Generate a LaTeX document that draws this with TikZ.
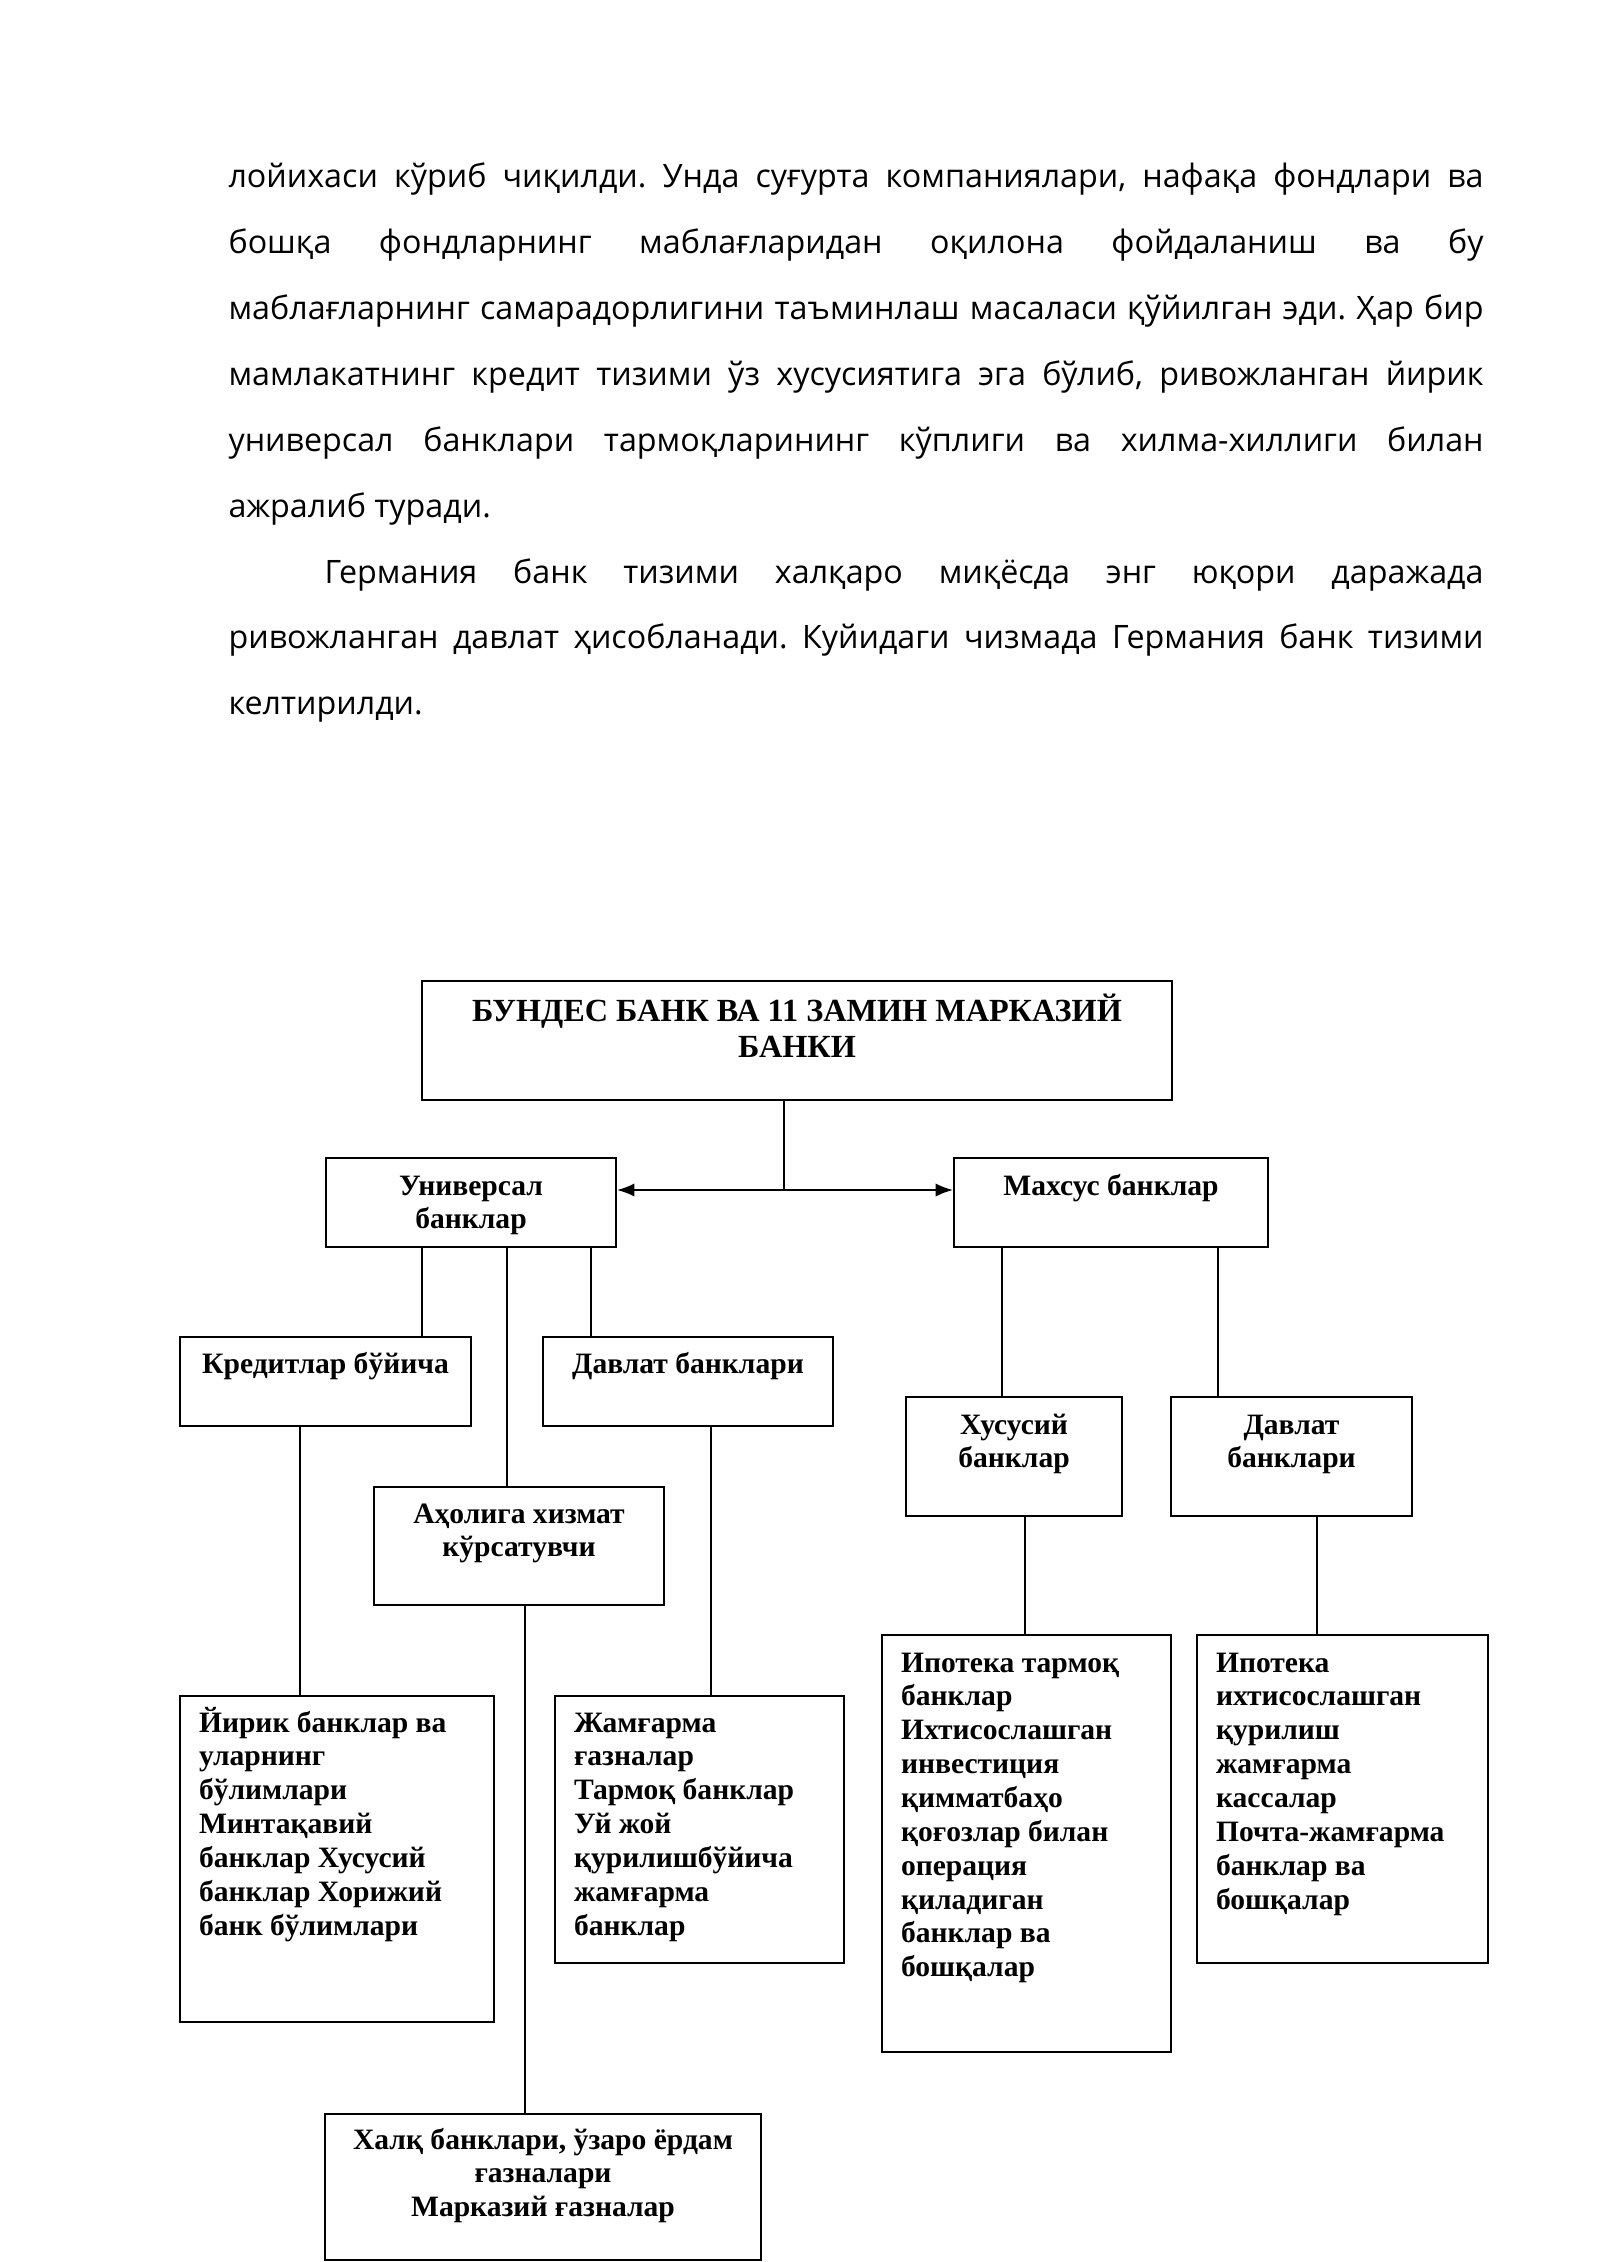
\documentclass[tikz,border=0pt]{standalone}
\usepackage{fontspec}
\usetikzlibrary{arrows.meta,calc}
\newfontfamily\bodyfont{Open Sans}
\newfontfamily\boxfontfam{Liberation Serif}
\newlength\pxu
\setlength\pxu{0.37205pt}
\newcommand\boxfont{\boxfontfam\bfseries\fontsize{11pt}{12.6pt}\selectfont}
\newcommand\titlefont{\fontsize{12pt}{13.6pt}\selectfont}
\newcommand\boxc[4]{\parbox[c][#2\pxu][t]{#1\pxu}{\centering\rule{0pt}{#3\pxu}#4\par}}
\newcommand\boxl[4]{\parbox[c][#2\pxu][t]{#1\pxu}{\raggedright\leftskip=19\pxu\rule{0pt}{#3\pxu}#4\par}}
\tikzset{
  box/.style={draw, line width=0.75pt, inner sep=0pt, anchor=north west, font=\boxfont},
  link/.style={line width=0.6pt},
  biarrow/.style={line width=0.7pt, {Latex[length=6.5pt,width=5pt]}-{Latex[length=6.5pt,width=5pt]}}
}
\begin{document}
\begin{tikzpicture}[x=0.37205pt, y=-0.37205pt]
\useasboundingbox[fill=white] (0,0) rectangle (1600,2262);

% body text
\node[anchor=base west, inner sep=0pt] (body) at (228,188) {\parbox[t]{1255\pxu}{%
\bodyfont\fontsize{12pt}{24.5pt}\selectfont\frenchspacing
\tolerance=10000 \hyphenpenalty=10000 \parindent=0pt \parfillskip=0pt plus 1fil
лойихаси кўриб чиқилди. Унда суғурта компаниялари, нафақа фондлари ва\linebreak
бошқа фондларнинг маблағларидан оқилона фойдаланиш ва бу\linebreak
маблағларнинг самарадорлигини таъминлаш масаласи қўйилган эди. Ҳар бир\linebreak
мамлакатнинг кредит тизими ўз хусусиятига эга бўлиб, ривожланган йирик\linebreak
универсал банклари тармоқларининг кўплиги ва хилма-хиллиги билан\linebreak
ажралиб туради.\par
\hspace*{96\pxu}Германия банк тизими халқаро миқёсда энг юқори даражада\linebreak
ривожланган давлат ҳисобланади. Куйидаги чизмада Германия банк тизими\linebreak
келтирилди.\par}};

% boxes
\node[box] (top) at (421,980) {\boxc{750}{119}{40}{\titlefont БУНДЕС БАНК ВА 11 ЗАМИН МАРКАЗИЙ\\БАНКИ}};
\node[box] (univ) at (325,1157) {\boxc{290}{89}{37}{Универсал\\банклар}};
\node[box] (maxsus) at (953,1157) {\boxc{314}{89}{37}{Махсус банклар}};
\node[box] (kred) at (179,1336) {\boxc{291}{89}{36}{Кредитлар бўйича}};
\node[box] (davlat) at (542,1336) {\boxc{290}{89}{36}{Давлат банклари}};
\node[box] (aholi) at (373,1486) {\boxc{290}{118}{36}{Аҳолига хизмат\\кўрсатувчи}};
\node[box] (xusus) at (905,1396) {\boxc{216}{119}{37}{Хусусий\\банклар}};
\node[box] (davlat2) at (1170,1396) {\boxc{241}{119}{37}{Давлат\\банклари}};
\node[box] (yirik) at (179,1695) {\boxl{314}{326}{36}{Йирик банклар ва\\уларнинг\\бўлимлари\\Минтақавий\\банклар Хусусий\\банклар Хорижий\\банк бўлимлари}};
\node[box] (jamg) at (554,1695) {\boxl{289}{267}{36}{Жамғарма\\ғазналар\\Тармоқ банклар\\Уй жой\\қурилишбўйича\\жамғарма\\банклар}};
\node[box] (ipo1) at (881,1634) {\boxl{289}{417}{37}{Ипотека тармоқ\\банклар\\Ихтисослашган\\инвестиция\\қимматбаҳо\\қоғозлар билан\\операция\\қиладиган\\банклар ва\\бошқалар}};
\node[box] (ipo2) at (1196,1634) {\boxl{291}{328}{37}{Ипотека\\ихтисослашган\\қурилиш\\жамғарма\\кассалар\\Почта-жамғарма\\банклар ва\\бошқалар}};
\node[box] (xalq) at (324,2113) {\boxc{436}{146}{35}{Халқ банклари, ўзаро ёрдам\\ғазналари\\Марказий ғазналар}};

% x positions of connectors
\coordinate (xc) at (784,0);
\coordinate (xu1) at (422,0);
\coordinate (xu2) at (507,0);
\coordinate (xu3) at (591,0);
\coordinate (xk) at (300,0);
\coordinate (xd) at (711,0);
\coordinate (xa) at (525,0);
\coordinate (xm1) at (1002,0);
\coordinate (xm2) at (1218,0);
\coordinate (xx) at (1025,0);
\coordinate (xd2) at (1317,0);
\coordinate (jn) at (784,1190);

% connectors
\draw[link] (top.south -| xc) -- (jn);
\draw[biarrow] (univ.east |- jn) -- (maxsus.west |- jn);
\draw[link] (univ.south -| xu1) -- (kred.north -| xu1);
\draw[link] (univ.south -| xu2) -- (aholi.north -| xu2);
\draw[link] (univ.south -| xu3) -- (davlat.north -| xu3);
\draw[link] (kred.south -| xk) -- (yirik.north -| xk);
\draw[link] (davlat.south -| xd) -- (jamg.north -| xd);
\draw[link] (aholi.south -| xa) -- (xalq.north -| xa);
\draw[link] (maxsus.south -| xm1) -- (xusus.north -| xm1);
\draw[link] (maxsus.south -| xm2) -- (davlat2.north -| xm2);
\draw[link] (xusus.south -| xx) -- (ipo1.north -| xx);
\draw[link] (davlat2.south -| xd2) -- (ipo2.north -| xd2);
\end{tikzpicture}
\end{document}
